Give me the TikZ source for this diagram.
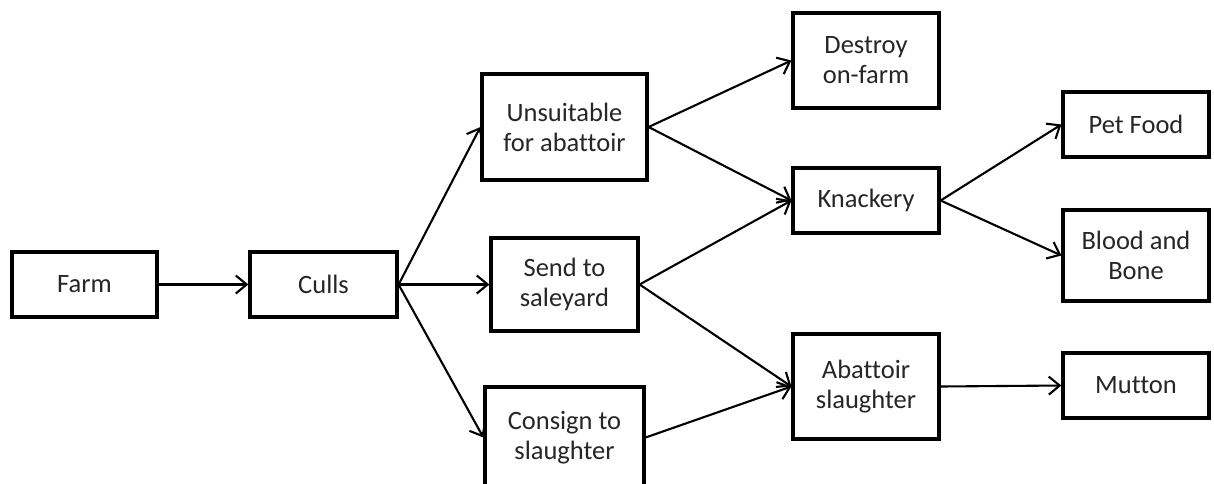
\documentclass[tikz,border=0pt]{standalone}
\usepackage{fontspec}
\setmainfont{Carlito}[Ligatures=NoCommon]
\usetikzlibrary{arrows.meta}
\begin{document}
\begin{tikzpicture}[x=1pt,y=-1pt,
  box/.style={draw, line width=3.2pt, rectangle, align=center, inner sep=0pt,
    font=\fontsize{26.5}{30}\selectfont, text=black!85},
  conn/.style={line width=2.1pt, -{Straight Barb[length=11pt,width=18pt,line width=2.1pt]}}]
\clip (0,0) rectangle (1214,483);
\fill[white] (0,0) rectangle (1214,483);
\node[box, minimum width=145pt, minimum height=65pt] (farm) at (84.5,284.5) {Farm};
\node[box, minimum width=147pt, minimum height=65pt] (culls) at (323.5,284.5) {Culls};
\node[box, minimum width=165pt, minimum height=106pt] (unsuit) at (564.5,127) {Unsuitable\\for abattoir};
\node[box, minimum width=147pt, minimum height=93pt] (send) at (564.5,284.5) {Send to\\saleyard};
\node[box, minimum width=159pt, minimum height=101pt] (consign) at (564.5,437.5) {Consign to\\slaughter};
\node[box, minimum width=146pt, minimum height=95pt] (destroy) at (866,60.5) {Destroy\\on-farm};
\node[box, minimum width=146pt, minimum height=65pt] (knack) at (866,200.5) {Knackery};
\node[box, minimum width=146pt, minimum height=105pt] (abatt) at (866,386.5) {Abattoir\\slaughter};
\node[box, minimum width=146pt, minimum height=65pt] (pet) at (1136,124.5) {Pet Food};
\node[box, minimum width=146pt, minimum height=91pt] (blood) at (1136,255.5) {Blood and\\Bone};
\node[box, minimum width=146pt, minimum height=65pt] (mutton) at (1136,385.5) {Mutton};
\draw[conn] (farm.east) -- (culls.west);
\draw[conn] (culls.east) -- (unsuit.west);
\draw[conn] (culls.east) -- (send.west);
\draw[conn] (culls.east) -- (consign.west);
\draw[conn] (unsuit.east) -- (destroy.west);
\draw[conn] (unsuit.east) -- (knack.west);
\draw[conn] (send.east) -- (knack.west);
\draw[conn] (send.east) -- (abatt.west);
\draw[conn] (consign.east) -- (abatt.west);
\draw[conn] (knack.east) -- (pet.west);
\draw[conn] (knack.east) -- (blood.west);
\draw[conn] (abatt.east) -- (mutton.west);
\end{tikzpicture}
\end{document}
